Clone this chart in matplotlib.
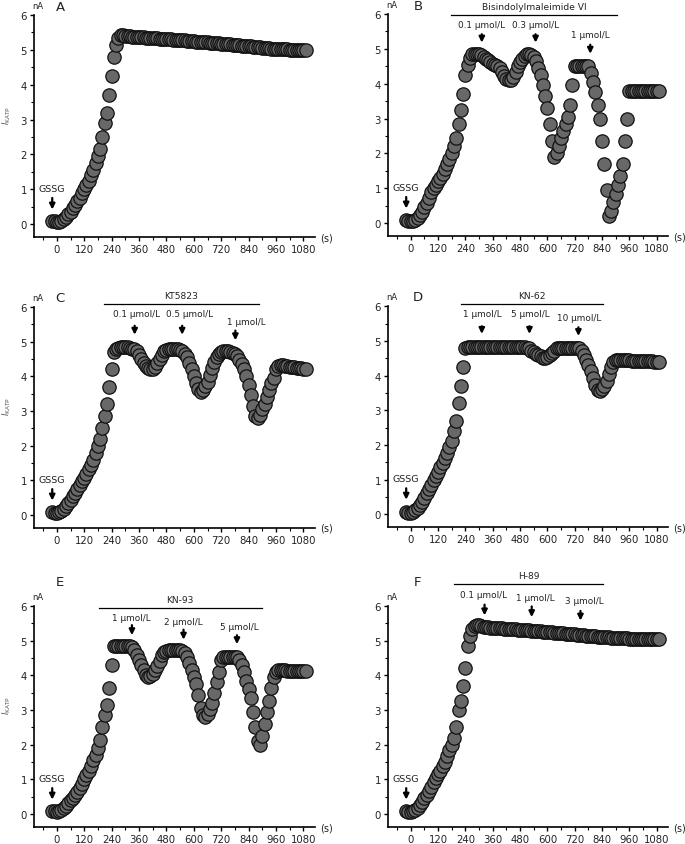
import numpy as np
import matplotlib
matplotlib.use('Agg')
import matplotlib.pyplot as plt
from matplotlib.ticker import MultipleLocator

# sampling instants (s), one point every 10 s
time_s = np.arange(-20, 1100, 10)

# I_KATP (nA)
panel_a = [
    0.10, 0.08, 0.05, 0.07, 0.10, 0.15, 0.20, 0.28, 0.36, 0.45,
    0.55, 0.65, 0.75, 0.88, 1.00, 1.12, 1.25, 1.40, 1.55, 1.75,
    1.95, 2.15, 2.50, 2.90, 3.20, 3.70, 4.25, 4.80, 5.15, 5.35,
    5.42, 5.42, 5.40, 5.39, 5.39, 5.38, 5.38, 5.37, 5.37, 5.36,
    5.36, 5.35, 5.35, 5.34, 5.34, 5.33, 5.33, 5.32, 5.32, 5.31,
    5.31, 5.30, 5.30, 5.29, 5.29, 5.28, 5.28, 5.27, 5.27, 5.26,
    5.26, 5.25, 5.25, 5.24, 5.24, 5.23, 5.23, 5.22, 5.22, 5.21,
    5.21, 5.20, 5.20, 5.19, 5.18, 5.18, 5.17, 5.16, 5.16, 5.15,
    5.14, 5.14, 5.13, 5.12, 5.12, 5.11, 5.10, 5.10, 5.09, 5.08,
    5.08, 5.07, 5.06, 5.06, 5.05, 5.05, 5.04, 5.04, 5.03, 5.03,
    5.03, 5.02, 5.02, 5.02, 5.01, 5.01, 5.01, 5.00, 5.00, 5.00,
    5.00, 5.00,
]
panel_b = [
    0.08, 0.05, 0.05, 0.07, 0.10, 0.15, 0.22, 0.32, 0.45, 0.58,
    0.72, 0.88, 1.00, 1.10, 1.20, 1.30, 1.42, 1.55, 1.70, 1.85,
    2.00, 2.20, 2.45, 2.85, 3.25, 3.70, 4.25, 4.55, 4.75, 4.85,
    4.85, 4.85, 4.85, 4.82, 4.78, 4.72, 4.68, 4.62, 4.58, 4.55,
    4.50, 4.45, 4.35, 4.22, 4.15, 4.10, 4.12, 4.20, 4.35, 4.50,
    4.62, 4.72, 4.80, 4.85, 4.85, 4.82, 4.78, 4.65, 4.45, 4.25,
    3.95, 3.65, 3.30, 2.85, 2.35, 1.90, 2.00, 2.20, 2.45, 2.65,
    2.85, 3.05, 3.40, 3.95, 4.50, 4.50, 4.50, 4.50, 4.50, 4.50,
    4.50, 4.30, 4.05, 3.75, 3.40, 3.00, 2.35, 1.70, 0.95, 0.20,
    0.35, 0.60, 0.85, 1.10, 1.35, 1.70, 2.35, 3.00, 3.80, 3.80,
    3.80, 3.80, 3.80, 3.80, 3.80, 3.80, 3.80, 3.80, 3.80, 3.80,
    3.80, 3.80,
]
panel_c = [
    0.08, 0.05, 0.05, 0.08, 0.12, 0.18, 0.26, 0.35, 0.45, 0.55,
    0.65, 0.75, 0.86, 0.98, 1.08, 1.20, 1.32, 1.45, 1.60, 1.80,
    2.00, 2.20, 2.50, 2.85, 3.20, 3.70, 4.20, 4.70, 4.80, 4.82,
    4.85, 4.85, 4.85, 4.85, 4.83, 4.80, 4.78, 4.72, 4.62, 4.50,
    4.40, 4.30, 4.25, 4.22, 4.22, 4.28, 4.38, 4.50, 4.62, 4.72,
    4.75, 4.78, 4.78, 4.80, 4.80, 4.78, 4.75, 4.72, 4.65, 4.55,
    4.40, 4.20, 4.00, 3.80, 3.65, 3.55, 3.60, 3.72, 3.85, 4.05,
    4.25, 4.42, 4.55, 4.65, 4.70, 4.72, 4.72, 4.72, 4.70, 4.68,
    4.65, 4.58, 4.48, 4.35, 4.20, 4.00, 3.75, 3.45, 3.15, 2.85,
    2.80, 2.90, 3.05, 3.20, 3.40, 3.60, 3.80, 3.95, 4.20, 4.30,
    4.32, 4.32, 4.30, 4.30, 4.28, 4.27, 4.26, 4.25, 4.24, 4.23,
    4.22, 4.22,
]
panel_d = [
    0.08, 0.05, 0.05, 0.08, 0.12, 0.18, 0.26, 0.36, 0.48, 0.60,
    0.72, 0.85, 0.98, 1.10, 1.22, 1.35, 1.48, 1.62, 1.78, 1.95,
    2.10, 2.40, 2.70, 3.20, 3.70, 4.25, 4.80, 4.82, 4.82, 4.82,
    4.82, 4.82, 4.82, 4.82, 4.82, 4.82, 4.82, 4.82, 4.82, 4.82,
    4.82, 4.82, 4.82, 4.82, 4.82, 4.82, 4.82, 4.82, 4.82, 4.82,
    4.82, 4.82, 4.82, 4.80, 4.78, 4.72, 4.68, 4.62, 4.58, 4.55,
    4.50, 4.50, 4.52, 4.58, 4.65, 4.72, 4.78, 4.80, 4.80, 4.80,
    4.80, 4.80, 4.80, 4.80, 4.80, 4.80, 4.78, 4.72, 4.60, 4.45,
    4.30, 4.12, 3.92, 3.72, 3.58, 3.55, 3.60, 3.70, 3.85, 4.05,
    4.25, 4.38, 4.45, 4.45, 4.45, 4.45, 4.45, 4.44, 4.44, 4.43,
    4.43, 4.43, 4.42, 4.42, 4.42, 4.42, 4.41, 4.41, 4.41, 4.40,
    4.40, 4.40,
]
panel_e = [
    0.10, 0.08, 0.05, 0.08, 0.12, 0.18, 0.25, 0.32, 0.40, 0.48,
    0.55, 0.65, 0.75, 0.88, 1.00, 1.12, 1.25, 1.40, 1.55, 1.72,
    1.90, 2.15, 2.50, 2.85, 3.15, 3.65, 4.30, 4.85, 4.85, 4.85,
    4.85, 4.85, 4.85, 4.85, 4.85, 4.82, 4.72, 4.60, 4.45, 4.30,
    4.15, 4.02, 3.95, 3.98, 4.05, 4.15, 4.28, 4.42, 4.58, 4.68,
    4.70, 4.72, 4.72, 4.72, 4.72, 4.72, 4.72, 4.70, 4.65, 4.52,
    4.35, 4.15, 3.95, 3.75, 3.45, 3.05, 2.85, 2.80, 2.90, 3.02,
    3.20, 3.50, 3.80, 4.10, 4.45, 4.52, 4.52, 4.52, 4.52, 4.52,
    4.52, 4.52, 4.45, 4.30, 4.10, 3.85, 3.60, 3.35, 2.95, 2.50,
    2.10, 2.00, 2.25, 2.60, 2.95, 3.25, 3.65, 3.95, 4.10, 4.15,
    4.15, 4.15, 4.15, 4.14, 4.14, 4.14, 4.13, 4.13, 4.13, 4.12,
    4.12, 4.12,
]
panel_f = [
    0.08, 0.05, 0.05, 0.08, 0.12, 0.18, 0.26, 0.36, 0.46, 0.56,
    0.66, 0.78, 0.92, 1.05, 1.15, 1.25, 1.38, 1.50, 1.68, 1.85,
    2.00, 2.20, 2.50, 3.00, 3.25, 3.70, 4.20, 4.85, 5.15, 5.35,
    5.42, 5.45, 5.44, 5.42, 5.40, 5.40, 5.39, 5.38, 5.38, 5.37,
    5.37, 5.36, 5.36, 5.35, 5.35, 5.34, 5.34, 5.33, 5.33, 5.32,
    5.32, 5.31, 5.31, 5.30, 5.30, 5.29, 5.29, 5.28, 5.27, 5.27,
    5.26, 5.26, 5.25, 5.25, 5.24, 5.23, 5.23, 5.22, 5.22, 5.21,
    5.20, 5.20, 5.19, 5.19, 5.18, 5.17, 5.17, 5.16, 5.16, 5.15,
    5.15, 5.14, 5.13, 5.13, 5.12, 5.12, 5.11, 5.11, 5.10, 5.10,
    5.09, 5.09, 5.08, 5.08, 5.08, 5.07, 5.07, 5.07, 5.06, 5.06,
    5.06, 5.06, 5.05, 5.05, 5.05, 5.05, 5.05, 5.05, 5.05, 5.05,
    5.05, 5.05,
]

panel_letters = ['A', 'B', 'C', 'D', 'E', 'F']
drug_names = [None, 'Bisindolylmaleimide VI', 'KT5823', 'KN-62', 'KN-93', 'H-89']
dose_labels = [
    [],
    ['0.1 μmol/L', '0.3 μmol/L', '1 μmol/L'],
    ['0.1 μmol/L', '0.5 μmol/L', '1 μmol/L'],
    ['1 μmol/L', '5 μmol/L', '10 μmol/L'],
    ['1 μmol/L', '2 μmol/L', '5 μmol/L'],
    ['0.1 μmol/L', '1 μmol/L', '3 μmol/L'],
]
x_ticks = [0, 120, 240, 360, 480, 600, 720, 840, 960, 1080]

# layout of the annotations (positions in data units)
# drug bar: x start, x end, y
drug_bar = [None, (177, 905, 5.98), (205, 884, 6.09), (221, 842, 6.05),
            (183, 897, 5.95), (192, 846, 6.64)]
# dose arrows: (text x, text y, arrow x, arrow top, arrow tip)
dose_pos = [
    [],
    [(312, 5.70, 312, 5.50, 5.10), (548, 5.70, 548, 5.50, 5.10), (788, 5.40, 788, 5.20, 4.78)],
    [(348, 5.82, 341, 5.54, 5.12), (581, 5.82, 549, 5.54, 5.12), (828, 5.58, 782, 5.40, 4.96)],
    [(315, 5.80, 312, 5.50, 5.12), (524, 5.80, 521, 5.50, 5.12), (739, 5.66, 736, 5.47, 5.06)],
    [(326, 5.68, 329, 5.53, 5.08), (555, 5.55, 555, 5.40, 4.95), (799, 5.40, 789, 5.24, 4.82)],
    [(319, 6.34, 324, 6.12, 5.65), (549, 6.25, 531, 6.07, 5.60), (761, 6.15, 745, 5.94, 5.50)],
]
letter_y = [1.038, 1.038, 1.042, 1.042, 1.11, 1.11]

fig = plt.figure(figsize=(6.85, 8.45), dpi=100)
ax_rects = [
    [0.0496, 0.7183, 0.410, 0.2627],
    [0.5664, 0.7195, 0.409, 0.2627],
    [0.0496, 0.3740, 0.410, 0.2615],
    [0.5664, 0.3750, 0.409, 0.2615],
    [0.0496, 0.0201, 0.410, 0.2615],
    [0.5664, 0.0201, 0.409, 0.2615],
]
all_values = [panel_a, panel_b, panel_c, panel_d, panel_e, panel_f]
text_color = '#222222'
arrow_props = dict(arrowstyle='-|>', color='black', lw=1.6, mutation_scale=8)

for i, values in enumerate(all_values):
    ax = fig.add_axes(ax_rects[i])

    # the recording, one marker per sample
    ax.plot(time_s, values, 'o', ms=9.6, mfc='#686868', mec='#111111',
            mew=0.9, clip_on=False, zorder=3)

    ax.set_xlim(-100, 1130)
    ax.set_ylim(-0.37, 6)
    ax.spines['top'].set_visible(False)
    ax.spines['right'].set_visible(False)
    ax.spines['left'].set_linewidth(1.2)
    ax.spines['bottom'].set_linewidth(1.2)
    ax.set_xticks(x_ticks)
    ax.xaxis.set_minor_locator(MultipleLocator(60))
    ax.set_yticks(range(0, 7))
    ax.yaxis.set_minor_locator(MultipleLocator(0.5))
    ax.tick_params(which='major', length=3, width=1, labelsize=7.3,
                   labelcolor=text_color, pad=2)
    ax.tick_params(which='minor', length=2, width=0.8)

    # labels around the axes
    ax.text(0.012, 1.045, 'nA', transform=ax.transAxes, ha='center',
            va='center', fontsize=6, color=text_color)
    lx = 0.093 if i % 2 == 0 else 0.107
    ax.text(lx, letter_y[i], panel_letters[i], transform=ax.transAxes,
            ha='center', va='center', fontsize=9.5, color=text_color)
    ax.text(1.018, 0, '(s)', transform=ax.transAxes, ha='left',
            va='center', fontsize=7, color=text_color)
    if i % 2 == 0:
        ax.text(-0.096, 0.554, r'$I_{\mathrm{KATP}}$', transform=ax.transAxes,
                ha='center', va='center', rotation=90, fontsize=6,
                color='#555555')

    # GSSG arrow
    ax.text(-20, 1.03, 'GSSG', ha='center', va='center', fontsize=6.8,
            color=text_color)
    ax.annotate('', xy=(-20, 0.34), xytext=(-20, 0.83), arrowprops=arrow_props)

    # drug bar and dose arrows
    if drug_names[i] is not None:
        x0, x1, yb = drug_bar[i]
        ax.plot([x0, x1], [yb, yb], color='black', lw=0.9, clip_on=False)
        ax.text((x0 + x1) / 2, yb + 0.25, drug_names[i], ha='center',
                va='center', fontsize=6.6, color=text_color)
        for label, (tx, ty, axx, a0, a1) in zip(dose_labels[i], dose_pos[i]):
            ax.text(tx, ty, label, ha='center', va='center', fontsize=6.4,
                    color=text_color)
            ax.annotate('', xy=(axx, a1), xytext=(axx, a0),
                        arrowprops=arrow_props, annotation_clip=False)

fig.savefig('out.png', dpi=100)
